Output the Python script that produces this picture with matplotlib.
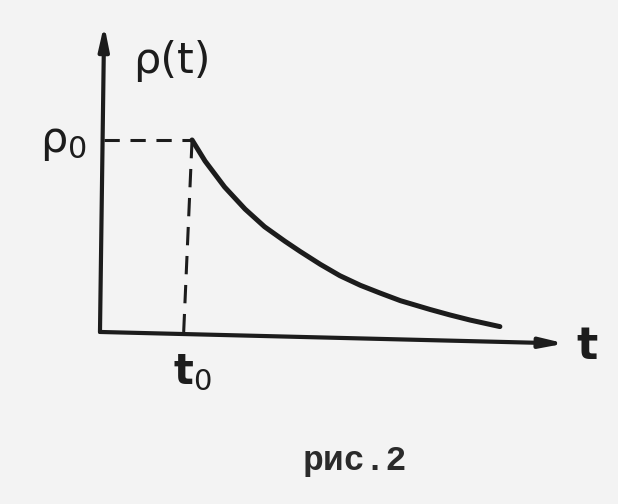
import matplotlib
matplotlib.use("Agg")
import matplotlib.pyplot as plt

# data (t in units of t0, rho in units of rho0)
t_curve = [0.99, 1.13, 1.34, 1.56, 1.77, 1.99, 2.15, 2.37, 2.58, 2.80,
           3.01, 3.23, 3.55, 3.76, 3.98, 4.30]
rho_curve = [1.000, 0.890, 0.755, 0.640, 0.548, 0.472, 0.420, 0.352, 0.293,
             0.243, 0.203, 0.163, 0.117, 0.089, 0.062, 0.028]
t0 = 0.99
rho0 = 1.0
x_axis_end = (5.0, -0.06)
y_axis_end = (0.045, 1.60)

label_y = "ρ(t)"
label_rho0 = "ρ$_0$"
label_t0 = "t$_0$"
label_t = "t"
caption = "рис.2"

ink = "#1c1c1c"
paper = "#f3f3f3"

fig = plt.figure(figsize=(6.18, 5.04), dpi=100, facecolor=paper)
ax = fig.add_axes([0, 0, 1, 1])
ax.set_facecolor(paper)
ax.set_xlim(-1.075, 5.57)
ax.set_ylim(-0.896, 1.729)
ax.axis("off")

# axes with arrows
arrow = dict(arrowstyle="-|>,head_length=1.4,head_width=0.3",
             color=ink, lw=3.0, shrinkA=0, shrinkB=0)
ax.annotate("", xy=x_axis_end, xytext=(0, 0), arrowprops=arrow)
ax.annotate("", xy=y_axis_end, xytext=(0, 0), arrowprops=arrow)

# dashed guides
ax.plot([0.04, t0], [rho0, rho0], color=ink, lw=2.2, ls=(0, (5, 3.5)))
ax.plot([t0, t0 - 0.09], [rho0, 0.0], color=ink, lw=2.2, ls=(0, (6, 3.5)))

# decay curve
ax.plot(t_curve, rho_curve, color=ink, lw=3.6, solid_capstyle="round",
        solid_joinstyle="round")

# labels
ax.text(0.36, 1.41, label_y, fontsize=31, color=ink, ha="left", va="center",
        family="DejaVu Sans")
ax.text(-0.64, 0.99, label_rho0, fontsize=31, color=ink, ha="left",
        va="center")
ax.text(0.78, -0.21, label_t0, fontsize=30, color=ink, ha="left", va="center",
        fontweight="bold")
ax.text(5.12, -0.075, label_t, fontsize=32, color=ink, ha="left", va="center",
        fontweight="bold")
ax.text(2.74, -0.67, caption, fontsize=25, color="#2a2a2a", ha="center",
        va="center", family="Liberation Mono", fontweight="bold")

fig.savefig("out.png", dpi=100, facecolor=paper)
